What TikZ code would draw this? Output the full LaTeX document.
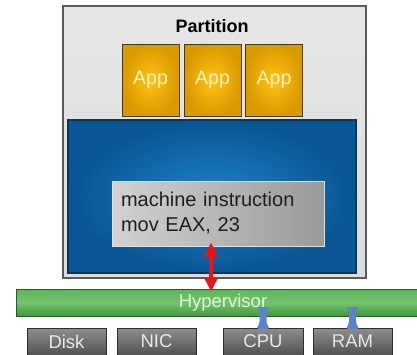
\documentclass[tikz,border=0pt]{standalone}
\usepackage{fontspec}
\setmainfont{Liberation Sans}
\usetikzlibrary{arrows.meta,calc}

\definecolor{partfill}{HTML}{DCDCDC}
\definecolor{partline}{HTML}{5A5A5A}
\definecolor{appA}{HTML}{FFC416}
\definecolor{appB}{HTML}{D89A00}
\definecolor{appline}{HTML}{4A3A12}
\definecolor{apptext}{HTML}{FFF1C4}
\definecolor{osin}{HTML}{1E80C8}
\definecolor{osout}{HTML}{0A5593}
\definecolor{osline}{HTML}{07365E}
\definecolor{insA}{HTML}{D2D2D2}
\definecolor{insB}{HTML}{9A9A9A}
\definecolor{insline}{HTML}{D6E4F0}
\definecolor{hypA}{HTML}{5DB656}
\definecolor{hypB}{HTML}{3F9A3D}
\definecolor{hypline}{HTML}{2A5A2C}
\definecolor{hyptext}{HTML}{E6F6DC}
\definecolor{devA}{HTML}{8E8E8E}
\definecolor{devB}{HTML}{525252}
\definecolor{devline}{HTML}{2E2E2E}
\definecolor{devtext}{HTML}{E8E8E8}
\definecolor{trap}{HTML}{E8141B}
\definecolor{link}{HTML}{5B84C4}

\tikzset{
  partbox/.style={draw=partline, line width=1.4pt, top color=partfill!70!white,
    bottom color=partfill, minimum width=303pt, minimum height=272pt, inner sep=0pt},
  appbox/.style={draw=appline, line width=1pt, inner color=appA, outer color=appB,
    minimum width=57pt, minimum height=72pt, inner sep=0pt, text=apptext,
    font=\fontsize{19.5}{22}\selectfont},
  osbox/.style={draw=osline, line width=1.5pt, inner color=osin, outer color=osout,
    minimum width=288pt, minimum height=153pt, inner sep=0pt},
  insbox/.style={draw=insline, line width=1pt, shading=axis, shading angle=-60,
    left color=insA, right color=insB, minimum width=212pt, minimum height=65pt,
    text width=194pt, align=left, inner sep=9pt, text=black!88,
    font=\fontsize{20}{25}\selectfont},
  hypbar/.style={draw=hypline, line width=1pt, top color=hypA, bottom color=hypB,
    middle color=hypA!85!white, minimum width=414pt, minimum height=27pt, inner sep=0pt,
    text=hyptext, font=\fontsize{18.5}{21}\selectfont},
  devbox/.style={draw=devline, line width=1pt, top color=devA, bottom color=devB,
    minimum width=79pt, minimum height=27pt, inner sep=0pt, text=devtext,
    font=\fontsize{18.5}{21}\selectfont},
  traparrow/.style={draw=trap, line width=4.5pt,
    {Triangle[width=13pt,length=14pt]}-{Triangle[width=13pt,length=14pt]},
    shorten <=-4pt, shorten >=-3pt},
  hglass/.style={fill=link, rounded corners=1.5pt},
}

\begin{document}
\begin{tikzpicture}[x=1pt,y=-1pt]
  \useasboundingbox (0,0) rectangle (417,354);
  \clip (0,0) rectangle (417,354);

  % partition with its applications and guest OS
  \node[partbox] (part) at (214.5,142) {};
  \node[font=\bfseries\fontsize{18}{21}\selectfont] (ptitle) at (212,26) {Partition};
  \node[appbox] (app1) at (150.5,80) {App};
  \node[appbox] (app2) at (212.5,80) {App};
  \node[appbox] (app3) at (274,80) {App};
  \node[osbox] (os) at (212,196.5) {};
  \node[insbox] (instr) at (218,213.5) {machine instruction\\mov EAX, 23};

  % hypervisor layer
  \node[hypbar] (hyp) at (223,302.5) {Hypervisor};

  % physical devices
  \node[devbox] (disk) at (66.5,341.5) {Disk};
  \node[devbox] (nic) at (156.5,341.5) {NIC};
  \node[devbox, minimum width=80pt] (cpu) at (263,341.5) {CPU};
  \node[devbox] (ram) at (352.5,341.5) {RAM};

  % trapped instruction
  \coordinate (trapT) at ($(instr.south)+(-7,0)$);
  \draw[traparrow] (trapT) -- (trapT |- hyp.north);

  % hypervisor to CPU and RAM links
  \coordinate (cpuT) at ($(cpu.north |- hyp.center)+(0,4.5)$);
  \coordinate (cpuB) at ($(cpu.north)+(0,1.5)$);
  \coordinate (ramT) at ($(ram.north |- hyp.center)+(0,4.5)$);
  \coordinate (ramB) at ($(ram.north)+(0,1.5)$);
  \fill[hglass] ([shift={(-6.5,0)}]cpuT) -- ([shift={(6.5,0)}]cpuT)
    -- ([shift={(3.5,6)}]cpuT) -- ([shift={(3.5,-6)}]cpuB)
    -- ([shift={(6.5,0)}]cpuB) -- ([shift={(-6.5,0)}]cpuB)
    -- ([shift={(-3.5,-6)}]cpuB) -- ([shift={(-3.5,6)}]cpuT) -- cycle;
  \fill[hglass] ([shift={(-6.5,0)}]ramT) -- ([shift={(6.5,0)}]ramT)
    -- ([shift={(3.5,6)}]ramT) -- ([shift={(3.5,-6)}]ramB)
    -- ([shift={(6.5,0)}]ramB) -- ([shift={(-6.5,0)}]ramB)
    -- ([shift={(-3.5,-6)}]ramB) -- ([shift={(-3.5,6)}]ramT) -- cycle;
\end{tikzpicture}
\end{document}
